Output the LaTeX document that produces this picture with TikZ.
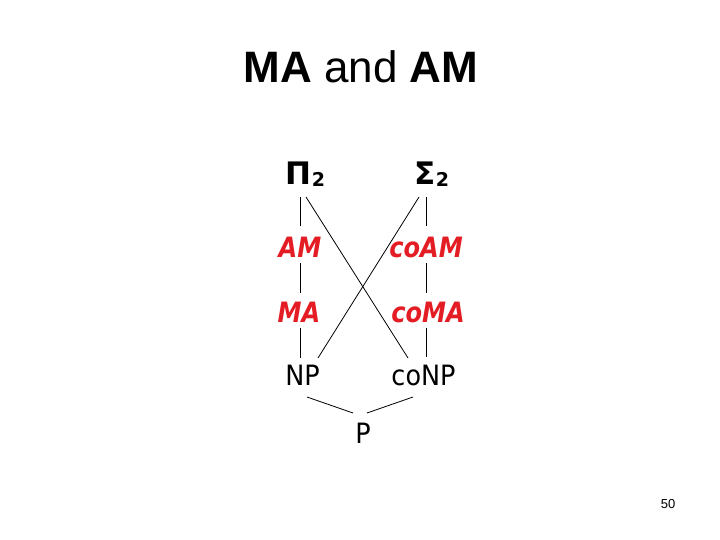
\documentclass[tikz,border=0pt]{standalone}
\usepackage{fontspec}
\setmainfont{Liberation Sans}
\newfontfamily\dejavu{DejaVu Sans}
\usetikzlibrary{calc}
\definecolor{amred}{RGB}{228,28,36}
\tikzset{
  lbl/.style={anchor=base,inner sep=0pt,font=\dejavu\fontsize{28}{28}\selectfont},
  redlbl/.style={anchor=base,inner sep=0pt,text=amred,font=\dejavu\bfseries\itshape\fontsize{28}{28}\selectfont},
  cls/.style={anchor=base,inner sep=0pt,font=\dejavu\bfseries\fontsize{31}{31}\selectfont},
  edge/.style={draw=black,line width=0.8pt}
}
\newcommand{\subtwo}{\raisebox{-2pt}{\fontsize{19}{19}\selectfont 2}}
\newcommand{\nar}[1]{\scalebox{0.86}[1]{#1}}
\newcommand{\narb}[1]{\scalebox{0.91}[1]{#1}}
\begin{document}
\begin{tikzpicture}[x=1pt,y=-1pt]
\useasboundingbox (0,0) rectangle (720,540);
\fill[white] (0,0) rectangle (720,540);
\node[anchor=base,inner sep=0pt,font=\fontsize{44}{44}\selectfont] (title) at (361,83) {\textbf{MA} and \textbf{AM}};
\node[cls] (pi) at (305.5,185) {Π\subtwo};
\node[cls] (sigma) at (432,185) {Σ\subtwo};
\node[redlbl] (am) at (300,258) {\nar{AM}};
\node[redlbl] (coam) at (426,258) {\nar{coAM}};
\node[redlbl] (ma) at (299,322) {\nar{MA}};
\node[redlbl] (coma) at (428,322) {\nar{coMA}};
\node[lbl] (np) at (302.5,385) {\narb{NP}};
\node[lbl] (conp) at (423.5,385) {\narb{coNP}};
\node[lbl] (p) at (363,443) {\narb{P}};
\node[anchor=base,inner sep=0pt,font=\fontsize{13}{13}\selectfont] (page) at (668,508) {50};
\draw[edge] ($(pi.base)+(-5.5,12)$) -- ($(am.base)+(0,-32)$);
\draw[edge] ($(pi.base)+(0.5,12)$) -- ($(conp.base)+(-15.5,-27)$);
\draw[edge] ($(sigma.base)+(-13,12)$) -- ($(np.base)+(15.5,-27)$);
\draw[edge] ($(sigma.base)+(-6,12)$) -- ($(coam.base)+(0,-32)$);
\draw[edge] ($(am.base)+(0,5)$) -- ($(ma.base)+(1,-29)$);
\draw[edge] ($(ma.base)+(1,6)$) -- ($(np.base)+(-2.5,-27)$);
\draw[edge] ($(coam.base)+(0,5)$) -- ($(coma.base)+(-2,-29)$);
\draw[edge] ($(coma.base)+(-2,6)$) -- ($(conp.base)+(2.5,-28)$);
\draw[edge] ($(np.base)+(4.5,12)$) -- ($(p.base)+(-10,-30)$);
\draw[edge] ($(conp.base)+(-10.5,12)$) -- ($(p.base)+(4,-30)$);
\end{tikzpicture}
\end{document}
